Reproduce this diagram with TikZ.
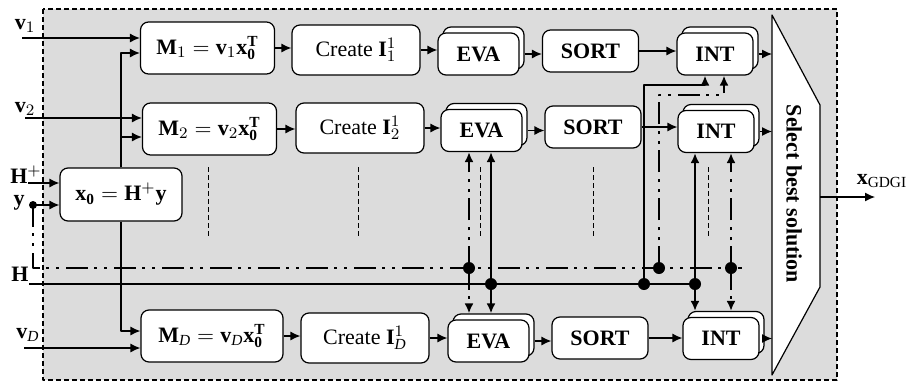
\documentclass[tikz,border=0pt]{standalone}
\usepackage{fontspec}
\setmainfont{Liberation Serif}
\usetikzlibrary{arrows.meta,shadows}
\definecolor{bgGray}{RGB}{220,220,220}
\begin{document}
\begin{tikzpicture}[x=0.5pt,y=-0.5pt,line join=round,>={Latex[length=5pt,width=4.5pt]},
  font=\fontsize{11}{13}\selectfont,
  blk/.style={draw,fill=white,rounded corners=4pt,inner sep=0pt,line width=0.6pt},
  stk/.style={blk,font=\fontsize{11}{13}\selectfont\bfseries,
    copy shadow={shadow xshift=2.5pt,shadow yshift=3pt,draw,fill=white}},
  mbox/.style={blk,minimum width=67pt,minimum height=26pt},
  cbox/.style={blk,minimum width=64pt,minimum height=25pt},
  ebox/.style={stk,minimum width=40.5pt,minimum height=21pt},
  sbox/.style={blk,font=\fontsize{11}{13}\selectfont\bfseries,minimum width=48pt,minimum height=21pt},
  ibox/.style={stk,minimum width=38pt,minimum height=21pt},
  thn/.style={line width=0.6pt},
  thk/.style={line width=1.3pt},
  dd/.style={thk,dash pattern=on 11pt off 3pt on 1.5pt off 3.5pt on 1.5pt off 3.5pt},
  vdots/.style={line width=0.5pt,dash pattern=on 2.5pt off 1.5pt}]
\useasboundingbox (0,0) rectangle (916,381);
% background box
\draw[thn,dash pattern=on 2.5pt off 1.5pt,fill=bgGray] (43,9) rectangle (837,380);
% select block
\draw[thn,fill=white] (772,15) -- (820,105) -- (820,287) -- (772,375) -- cycle;
\node[rotate=-90,font=\fontsize{11}{13}\selectfont\bfseries] (sel) at (794,194) {Select best solution};
\coordinate (selL) at (772,194);
\coordinate (selR) at (820,197);
\coordinate (xend) at (875,197);
% blocks
\node[blk,minimum width=61pt,minimum height=26.5pt] (x0) at (121,194.5) {$\mathbf{x}_{\mathbf{0}}=\mathbf{H}^{+}\mathbf{y}$};
\node[mbox] (M1) at (207.5,48) {$\mathbf{M}_1=\mathbf{v}_1\mathbf{x}_{\mathbf{0}}^{\mathbf{T}}$};
\node[mbox] (M2) at (209.5,129) {$\mathbf{M}_2=\mathbf{v}_2\mathbf{x}_{\mathbf{0}}^{\mathbf{T}}$};
\node[mbox,minimum width=71pt] (MD) at (212,336) {$\mathbf{M}_{\mathit{D}}=\mathbf{v}_{\mathit{D}}\mathbf{x}_{\mathbf{0}}^{\mathbf{T}}$};
\node[cbox] (C1) at (356,50) {Create $\mathbf{I}_1^1$};
\node[cbox] (C2) at (360,128) {Create $\mathbf{I}_2^1$};
\node[cbox] (CD) at (365,338) {Create $\mathbf{I}_{\mathit{D}}^1$};
\node[ebox] (E1) at (478.5,54) {EVA};
\node[ebox] (E2) at (481.5,130.5) {EVA};
\node[ebox] (ED) at (488.5,341) {EVA};
\node[sbox] (S1) at (590.5,51) {SORT};
\node[sbox] (S2) at (593,127) {SORT};
\node[sbox] (SD) at (600,338) {SORT};
\node[ibox] (I1) at (715,54) {INT};
\node[ibox] (I2) at (716,131.5) {INT};
\node[ibox] (ID) at (721,338.5) {INT};
\coordinate (EDtop) at ([yshift=3pt]ED.north);
\coordinate (IDtop) at ([yshift=3pt]ID.north);
% inputs
\node (lv1) at (25,26) {$\mathbf{v}_1$};
\node (lv2) at (25,109) {$\mathbf{v}_2$};
\node (lHp) at (26,175) {$\mathbf{H}^{+}$};
\node (ly) at (19,203) {$\mathbf{y}$};
\node (lH) at (20,274) {$\mathbf{H}$};
\node (lvD) at (28,335) {$\mathbf{v}_{\mathit{D}}$};
\node (xout) at (882,181) {$\mathbf{x}_{\mathrm{GDGI}}$};
\coordinate (v1in) at (22,38);
\coordinate (v2in) at (25,118);
\coordinate (vDin) at (24,348);
\coordinate (Hpin) at (28,183);
\coordinate (ydot) at (33,205);
\coordinate (hstart) at (29,284);
\coordinate (hend) at (695,284);
\coordinate (ddend) at (742,268);
% junctions
\coordinate (jA) at (469,268);
\coordinate (jB) at (491,284);
\coordinate (jC) at (644,284);
\coordinate (jD) at (659,268);
\coordinate (jE) at (695,284);
\coordinate (jF) at (731,268);
\coordinate (kC) at (705,85);
\coordinate (kD) at (724,95);
% dotted markers
\foreach \x in {208,358,480,593,708} \draw[vdots] (\x,167) -- (\x,238);
% thin arrows
\draw[thn,->] (v1in) -- (v1in -| M1.west);
\draw[thn,->] (v2in) -- (v2in -| M2.west);
\draw[thn,->] (vDin) -- (vDin -| MD.west);
\draw[thn,->] (Hpin) -- (Hpin -| x0.west);
\draw[thn,->] (ydot) -- (ydot -| x0.west);
\draw[thn,->] (x0.north) |- ([yshift=-2.5pt]M1.west);
\draw[thn,->] (x0.north) |- ([yshift=-4pt]M2.west);
\draw[thn,->] (x0.south) |- ([yshift=2.5pt]MD.west);
\foreach \r in {1,2,D} {
  \draw[thn,->] (M\r.east) -- (M\r.east -| C\r.west);
  \draw[thn,->] (C\r.east) -- (C\r.east -| E\r.west);
  \draw[thn,->] ([xshift=2.5pt]E\r.east) -- (E\r.east -| S\r.west);
  \draw[thn,->] (S\r.east) -- (S\r.east -| I\r.west);
  \draw[thn,->] ([xshift=2.5pt]I\r.east) -- (I\r.east -| selL);
}
\draw[thn,->] (selR) -- (xend);
% H and y buses
\draw[dd] (ydot) |- (ddend);
\draw[thk] (hstart) -- (hend);
\draw[dd,->] (jA) -- (jA |- E2.south);
\draw[dd,->] (jA) -- (jA |- EDtop);
\draw[thk,->] (jB) -- (jB |- E2.south);
\draw[thk,->] (jB) -- (jB |- EDtop);
\draw[thk,->] (jC) |- (kC) -- (kC |- I1.south);
\draw[dd,->] (jD) |- (kD) -- (kD |- I1.south);
\draw[thk,->] (jE) -- (jE |- I2.south);
\draw[thk,->] (jE) -- (jE |- IDtop);
\draw[dd,->] (jF) -- (jF |- I2.south);
\draw[dd,->] (jF) -- (jF |- IDtop);
\foreach \j in {jA,jB,jC,jD,jE,jF} \fill (\j) circle (3pt);
\fill (ydot) circle (2pt);
\end{tikzpicture}
\end{document}
